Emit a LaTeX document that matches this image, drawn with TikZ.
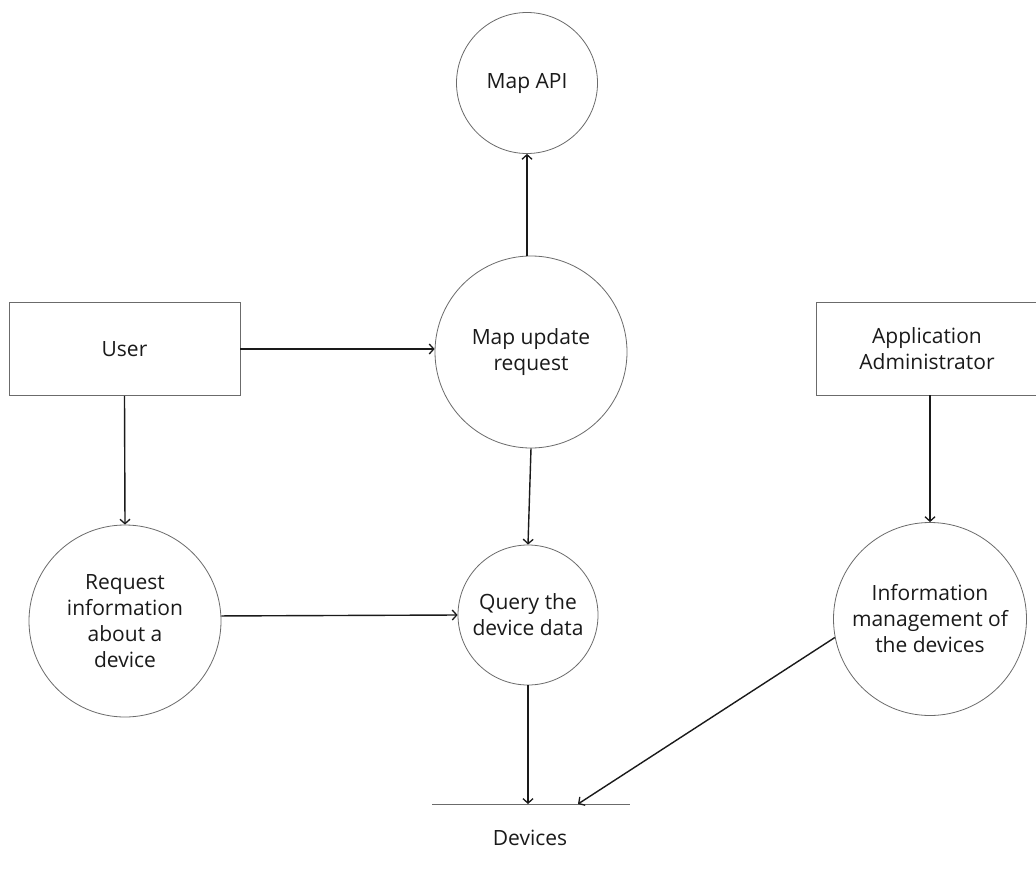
\documentclass[tikz,border=0pt]{standalone}
\usepackage{fontspec}
\setmainfont{Open Sans}
\usetikzlibrary{arrows.meta}
\definecolor{ink}{HTML}{1A1A1A}
\definecolor{edge}{HTML}{6B6B6B}
\begin{document}
\begin{tikzpicture}[x=1pt,y=-1pt,
  every node/.style={font=\fontsize{21}{26}\selectfont, text=ink, align=center, inner sep=0pt},
  proc/.style={circle, draw=edge, line width=0.8pt, fill=white},
  ent/.style={rectangle, draw=edge, line width=0.8pt, fill=white},
  flow/.style={draw=ink, line width=1.4pt, -{Straight Barb[length=4.5pt,width=10pt,line width=1.3pt]}}]
\useasboundingbox (0,0) rectangle (1036,875);
\fill[white] (0,0) rectangle (1036,875);
\node[proc, minimum size=141pt] (mapapi) at (527,83) {Map API};
\node[proc, minimum size=192pt] (mapupd) at (531,352) {Map update\\request};
\node[ent, minimum width=231pt, minimum height=93pt] (user) at (124.5,349) {User};
\node[ent, minimum width=222pt, minimum height=93pt] (admin) at (927,348.5) {Application\\Administrator};
\node[proc, minimum size=192pt, text depth=-3pt] (request) at (125,621) {Request\\information\\about a\\device};
\node[proc, minimum size=140pt] (query) at (528,615) {Query the\\device data};
\node[proc, minimum size=193pt] (info) at (930,619) {Information\\management of\\the devices};
\coordinate (dl) at (432,804);
\coordinate (dr) at (630,804);
\coordinate (dq) at (528,804);
\coordinate (di) at (578,804);
\draw[edge, line width=0.8pt] (dl) -- (dr);
\node (devices) at (530,838) {Devices};
\draw[flow] (mapapi.south |- mapupd.north) -- (mapapi.south);
\draw[flow] (user.east) -- (user.east -| mapupd.west);
\draw[flow] (user.south) -- (request.north);
\draw[flow] (mapupd.south) -- (query.north);
\draw[flow] (request.3) -- (query.west);
\draw[flow] (query.south) -- (dq);
\draw[flow] (info.191) -- (di);
\draw[flow] (admin.south -| info.north) -- (info.north);
\end{tikzpicture}
\end{document}
